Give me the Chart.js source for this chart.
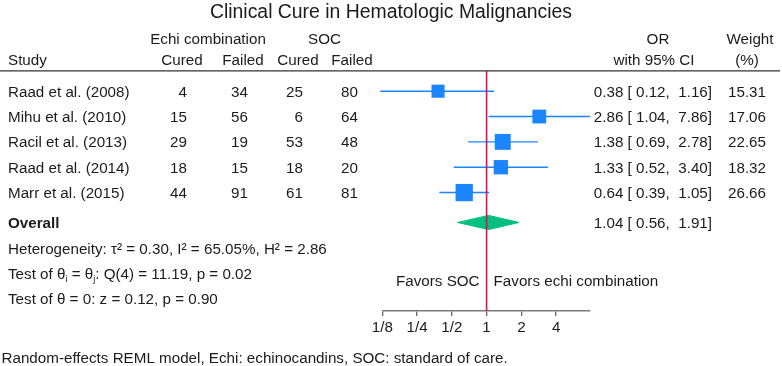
<!DOCTYPE html>
<html><head><meta charset="utf-8">
<script src="https://cdn.jsdelivr.net/npm/chart.js@4.4.1/dist/chart.umd.min.js"></script>
<style>html,body{margin:0;padding:0;background:#fff}#wrap{width:782px;height:366px;position:relative}</style>
</head><body><div id="wrap"><canvas id="c"></canvas></div>
<script>
// ---------- data ----------
const studies = ["Raad et al. (2008)", "Mihu et al. (2010)", "Racil et al. (2013)", "Raad et al. (2014)", "Marr et al. (2015)"];
const echiCured = [4, 15, 29, 18, 44];
const echiFailed = [34, 56, 19, 15, 91];
const socCured = [25, 6, 53, 18, 61];
const socFailed = [80, 64, 48, 20, 81];
const orEst = [0.38, 2.86, 1.38, 1.33, 0.64];
const ciLow = [0.12, 1.04, 0.69, 0.52, 0.39];
const ciHigh = [1.16, 7.86, 2.78, 3.40, 1.05];
const weights = [15.31, 17.06, 22.65, 18.32, 26.66];
const overallEst = [1.04];
const overallLow = [0.56];
const overallHigh = [1.91];
const tickValues = [0.125, 0.25, 0.5, 1, 2, 4];
const tickLabels = ["1/8", "1/4", "1/2", "1", "2", "4"];
const statLines = ["Heterogeneity: τ² = 0.30, I² = 65.05%, H² = 2.86", "Test of θ_i = θ_j: Q(4) = 11.19, p = 0.02", "Test of θ = 0: z = 0.12, p = 0.90"];
const titleText = "Clinical Cure in Hematologic Malignancies";
const footnote = "Random-effects REML model, Echi: echinocandins, SOC: standard of care.";

// ---------- style / layout ----------
const FAM = "'Liberation Sans', Arial, Helvetica, sans-serif";
const FS = 15.2;
const TXT = '#1b1b1b';
const BLUE = 'rgb(26,133,255)';
const RED = 'rgb(212,17,89)';
const GREEN = 'rgb(0,191,127)';
const Y_TOP = 0.1986, Y_BOT = 9.673;
const ROW_OVERALL = 6.18;
const ROW_STATS = [7.198, 8.185, 9.172];
const ROW_FAVORS = 8.49;
const ROW_H1 = -1.084, ROW_H2 = -0.2554;
const DIAMOND_H = 0.28;

const datasets = [];
datasets.push({ data: [{x: 1, y: Y_TOP}, {x: 1, y: Y_BOT}], showLine: true, borderColor: RED, borderWidth: 1.6, pointRadius: 0, order: 0, clip: false });
studies.forEach((s, i) => {
  datasets.push({ data: [{x: ciLow[i], y: i + 1}, {x: ciHigh[i], y: i + 1}], showLine: true, borderColor: BLUE, borderWidth: 1.4, pointRadius: 0, order: 3, clip: false });
});
datasets.push({ data: orEst.map((v, i) => ({x: v, y: i + 1})), showLine: false, pointStyle: 'rect',
  pointRadius: weights.map(w => 3.35 * Math.sqrt(w) / Math.SQRT2), backgroundColor: BLUE, borderColor: BLUE, borderWidth: 0, order: 2, clip: false });
datasets.push({ data: [
  {x: overallLow[0], y: ROW_OVERALL}, {x: overallEst[0], y: ROW_OVERALL - DIAMOND_H},
  {x: overallHigh[0], y: ROW_OVERALL}, {x: overallEst[0], y: ROW_OVERALL + DIAMOND_H},
  {x: overallLow[0], y: ROW_OVERALL}], showLine: true, fill: 'shape', tension: 0,
  backgroundColor: GREEN, borderColor: GREEN, borderWidth: 1, pointRadius: 0, order: 1, clip: false });

function fmt5(v) { return v.toFixed(2).padStart(5, ' '); }

function drawRich(ctx, s, x, y) {
  // '_c' renders c as subscript
  let cx = x;
  const parts = s.split(/(_.)/);
  for (const p of parts) {
    if (!p) continue;
    if (p[0] === '_' && p.length === 2) {
      ctx.font = (FS * 0.6) + 'px ' + FAM;
      ctx.fillText(p[1], cx, y + 3.5);
      cx += ctx.measureText(p[1]).width;
    } else {
      ctx.font = FS + 'px ' + FAM;
      ctx.fillText(p, cx, y);
      cx += ctx.measureText(p).width;
    }
  }
}

const tablePlugin = {
  id: 'table',
  afterDraw(chart) {
    const ctx = chart.ctx;
    const ys = chart.scales.y, xs = chart.scales.x;
    const base = FS * 0.358;
    const Y = r => ys.getPixelForValue(r) + base;
    ctx.save();
    ctx.fillStyle = TXT;
    ctx.textBaseline = 'alphabetic';
    const put = (s, x, r, align, bold) => {
      ctx.font = (bold ? 'bold ' : '') + FS + 'px ' + FAM;
      ctx.textAlign = align;
      ctx.fillText(s, x, Y(r));
    };
    // headers
    put('Echi combination', 208, ROW_H1, 'center');
    put('SOC', 324.5, ROW_H1, 'center');
    put('OR', 658, ROW_H1, 'center');
    put('Weight', 750, ROW_H1, 'center');
    put('Study', 8, ROW_H2, 'left');
    put('Cured', 182, ROW_H2, 'center');
    put('Failed', 243, ROW_H2, 'center');
    put('Cured', 298, ROW_H2, 'center');
    put('Failed', 352, ROW_H2, 'center');
    put('with 95% CI', 654, ROW_H2, 'center');
    put('(%)', 747, ROW_H2, 'center');
    // header rule
    ctx.strokeStyle = '#333';
    ctx.lineWidth = 1.3;
    ctx.beginPath();
    ctx.moveTo(0, chart.chartArea.top);
    ctx.lineTo(780, chart.chartArea.top);
    ctx.stroke();
    // rows
    studies.forEach((s, i) => {
      const r = i + 1;
      put(s, 8, r, 'left');
      put(String(echiCured[i]), 187, r, 'right');
      put(String(echiFailed[i]), 248, r, 'right');
      put(String(socCured[i]), 303, r, 'right');
      put(String(socFailed[i]), 358, r, 'right');
      put(orEst[i].toFixed(2) + ' [' + fmt5(ciLow[i]) + ', ' + fmt5(ciHigh[i]) + ']', 712, r, 'right');
      put(weights[i].toFixed(2), 766, r, 'right');
    });
    put('Overall', 8, ROW_OVERALL, 'left', true);
    put(overallEst[0].toFixed(2) + ' [' + fmt5(overallLow[0]) + ', ' + fmt5(overallHigh[0]) + ']', 712, ROW_OVERALL, 'right');
    ctx.textAlign = 'left';
    statLines.forEach((s, i) => drawRich(ctx, s, 8, Y(ROW_STATS[i])));
    const x1 = xs.getPixelForValue(1);
    put('Favors SOC', x1 - 7, ROW_FAVORS, 'right');
    put('Favors echi combination', x1 + 7, ROW_FAVORS, 'left');
    ctx.font = FS + 'px ' + FAM;
    ctx.textAlign = 'left';
    ctx.fillText(footnote, 1.5, chart.height - 3.5);
    ctx.restore();
  }
};

new Chart(document.getElementById('c'), {
  type: 'scatter',
  data: { datasets },
  options: {
    responsive: true,
    maintainAspectRatio: false,
    animation: false,
    events: [],
    layout: { padding: 0 },
    plugins: {
      legend: { display: false },
      tooltip: { enabled: false },
      title: { display: true, text: titleText, color: TXT,
        font: { family: FAM, size: 19.4, weight: 'normal', lineHeight: 1.2 },
        padding: { top: 1, bottom: 46.6 } }
    },
    scales: {
      x: {
        type: 'logarithmic', position: 'bottom',
        min: tickValues[0], max: Math.max(...ciHigh),
        afterBuildTicks: s => { s.ticks = tickValues.map(v => ({ value: v })); },
        afterFit: s => { s.height = 55; },
        ticks: { callback: (v, i) => tickLabels[i], autoSkip: false, maxRotation: 0, minRotation: 0,
          color: TXT, padding: 3, font: { family: FAM, size: FS } },
        grid: { drawOnChartArea: false, drawTicks: true, tickLength: 5, color: '#666', lineWidth: 1.3 },
        border: { display: true, color: '#7a7a7a', width: 1.5 }
      },
      y: {
        type: 'linear', position: 'left', reverse: true, min: Y_TOP, max: Y_BOT,
        afterFit: s => { s.width = 382.3; },
        ticks: { display: false }, grid: { display: false }, border: { display: false }
      },
      y2: {
        type: 'linear', position: 'right',
        afterFit: s => { s.width = 192; },
        ticks: { display: false }, grid: { display: false }, border: { display: false }
      }
    }
  },
  plugins: [tablePlugin]
});
</script>
</body></html>
